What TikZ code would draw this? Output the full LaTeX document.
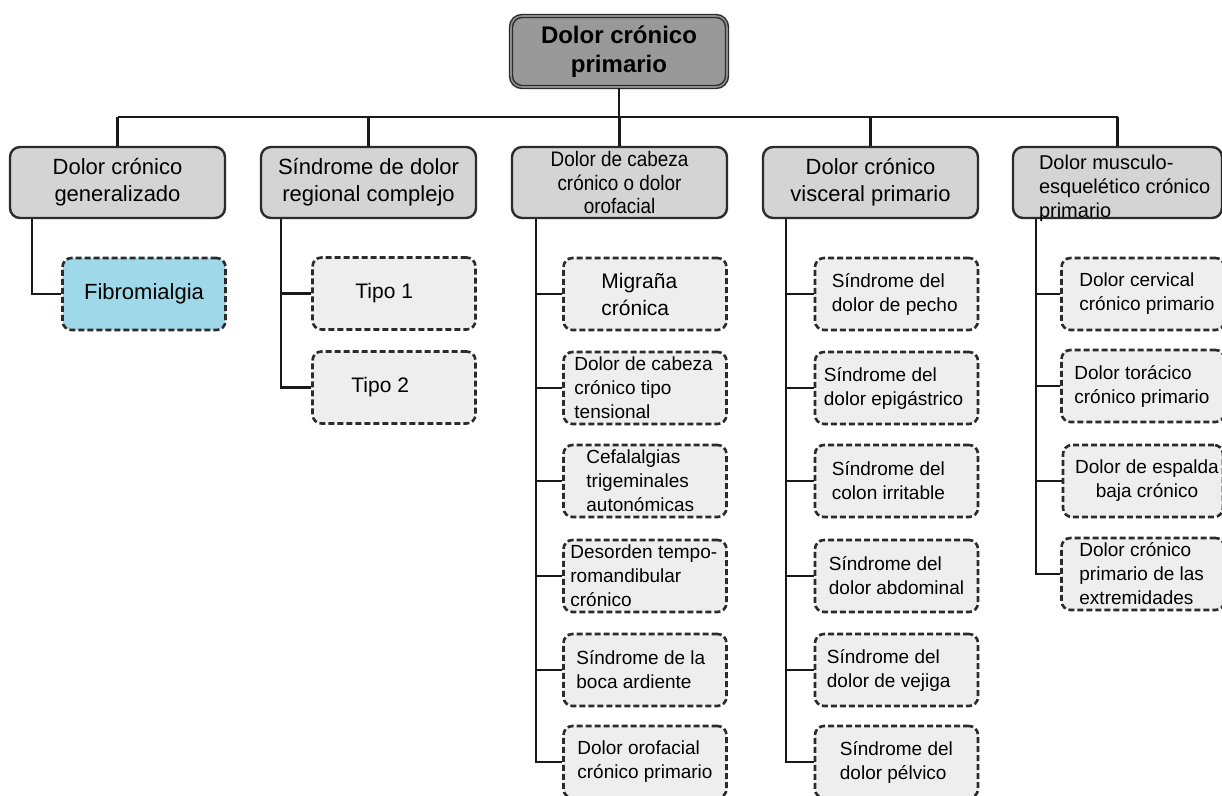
\documentclass[tikz,border=0pt]{standalone}
\usepackage{fontspec}
\setmainfont{Liberation Sans}
\newfontfamily\narrowsans[FakeStretch=0.9]{Liberation Sans}
\usetikzlibrary{calc}

\definecolor{topfill}{HTML}{999999}
\definecolor{catfill}{HTML}{D4D4D4}
\definecolor{leaffill}{HTML}{EEEEEE}
\definecolor{fibrofill}{HTML}{9FD9E9}
\definecolor{lineclr}{HTML}{2B2B2B}

\tikzset{
  link/.style={draw=black!90, line width=2.5pt},
  topbox/.style={draw=lineclr, line width=1.4pt, double=black!45, double distance=1.6pt,
    fill=topfill, rounded corners=11pt, minimum width=216pt, minimum height=71pt,
    inner sep=0pt, align=center, font=\fontsize{24}{29}\selectfont\bfseries},
  catbox/.style={draw=lineclr, line width=2.4pt, fill=catfill, rounded corners=10pt,
    minimum width=215pt, minimum height=71pt, inner sep=0pt, align=center,
    font=\fontsize{22}{27}\selectfont},
  leafbox/.style={draw=lineclr, line width=2.6pt, dash pattern=on 6pt off 3pt,
    fill=leaffill, rounded corners=9pt, minimum width=163pt, minimum height=72pt,
    inner sep=0pt, align=center, font=\fontsize{21}{27}\selectfont},
  leaftext/.style={anchor=west, inner sep=0pt, align=left,
    font=\fontsize{19}{24}\selectfont},
}

% one dashed box and its left-aligned text: name, x, y, text inset, text
\newcommand{\leaf}[5]{%
  \node[leafbox] (#1) at (#2,#3) {};
  \node[leaftext] (#1t) at ([xshift=#4pt]#1.west) {#5};
}

\begin{document}
\begin{tikzpicture}[x=1pt,y=-1pt]
\useasboundingbox (0,0) rectangle (1222,795);

% root
\node[topbox] (top) at (619,51.5) {Dolor crónico\\primario};

% first level
\node[catbox] (c1) at (117.5,182.5) {Dolor crónico\\generalizado};
\node[catbox] (c2) at (368.5,182.5) {Síndrome de dolor\\regional complejo};
\node[catbox, font=\narrowsans\fontsize{21}{23.5}\selectfont] (c3) at (619.5,182.5)
  {Dolor de cabeza\\crónico o dolor\\orofacial};
\node[catbox] (c4) at (870.5,182.5) {Dolor crónico\\visceral primario};
\node[catbox, minimum width=209pt] (c5) at (1117.5,182.5) {};
\node[anchor=west, inner sep=0pt, align=left, font=\fontsize{20}{24}\selectfont]
  (c5t) at ([xshift=27pt,yshift=-6pt]c5.west)
  {Dolor musculo-\\esquelético crónico\\primario};

% bus from the root to the five groups
\coordinate (bus) at (0,117);
\draw[link] (top.south) -- (top.south |- bus);
\draw[link] (c1.north |- bus) -- (c5.north |- bus);
\foreach \c in {c1,c2,c3,c4,c5}
  \draw[link] (\c.north) -- (\c.north |- bus);

% spines under each group
\coordinate (s1) at ($(c1.south west)+(23,0)$);
\coordinate (s2) at ($(c2.south west)+(21,0)$);
\coordinate (s3) at ($(c3.south west)+(25,0)$);
\coordinate (s4) at ($(c4.south west)+(24,0)$);
\coordinate (s5) at ($(c5.south west)+(24,0)$);

% group 1
\node[leafbox, fill=fibrofill, font=\fontsize{22}{27}\selectfont] (fibro) at (144,294) {Fibromialgia};

% group 2
\node[leafbox] (t1) at (394,293.5) {};
\node[leaftext, font=\fontsize{21}{27}\selectfont] (t1t) at ([xshift=44pt]t1.west) {Tipo 1};
\node[leafbox] (t2) at (394,387.5) {};
\node[leaftext, font=\fontsize{21}{27}\selectfont] (t2t) at ([xshift=40pt]t2.west) {Tipo 2};

% group 3
\node[leafbox] (k31) at (645,294) {};
\node[leaftext, font=\fontsize{21}{27}\selectfont] (k31t) at ([xshift=39pt]k31.west) {Migraña\\crónica};
\leaf{k32}{645}{388}{12}{Dolor de cabeza\\crónico tipo\\tensional}
\leaf{k33}{645}{481}{24}{Cefalalgias\\trigeminales\\autonómicas}
\leaf{k34}{645}{576}{8}{Desorden tempo-\\romandibular\\crónico}
\leaf{k35}{645}{670}{14}{Síndrome de la\\boca ardiente}
\leaf{k36}{645}{762}{15}{Dolor orofacial\\crónico primario}

% group 4
\leaf{k41}{896.5}{294}{18}{Síndrome del\\dolor de pecho}
\leaf{k42}{896.5}{388}{10}{Síndrome del\\dolor epigástrico}
\leaf{k43}{896.5}{481}{18}{Síndrome del\\colon irritable}
\leaf{k44}{896.5}{576}{15}{Síndrome del\\dolor abdominal}
\leaf{k45}{896.5}{670}{13}{Síndrome del\\dolor de vejiga}
\leaf{k46}{896.5}{762}{26}{Síndrome del\\dolor pélvico}

% group 5
\leaf{k51}{1143}{294}{19}{Dolor cervical\\crónico primario}
\leaf{k52}{1143}{386}{14}{Dolor torácico\\crónico primario}
\node[leafbox, minimum width=160pt] (k53) at (1143,481) {};
\node[leaftext, anchor=center, align=center] (k53t) at ([xshift=4pt]k53.center) {Dolor de espalda\\baja crónico};
\leaf{k54}{1143}{574}{19}{Dolor crónico\\primario de las\\extremidades}

% branches
\draw[link] (s1) |- (fibro.west);
\draw[link] (s2) |- (t2.west);
\draw[link] (t1.west) -- (t1.west -| s2);
\draw[link] (s3) |- (k36.west);
\foreach \k in {k31,k32,k33,k34,k35}
  \draw[link] (\k.west) -- (\k.west -| s3);
\draw[link] (s4) |- (k46.west);
\foreach \k in {k41,k42,k43,k44,k45}
  \draw[link] (\k.west) -- (\k.west -| s4);
\draw[link] (s5) |- (k54.west);
\foreach \k in {k51,k52,k53}
  \draw[link] (\k.west) -- (\k.west -| s5);
\end{tikzpicture}
\end{document}
